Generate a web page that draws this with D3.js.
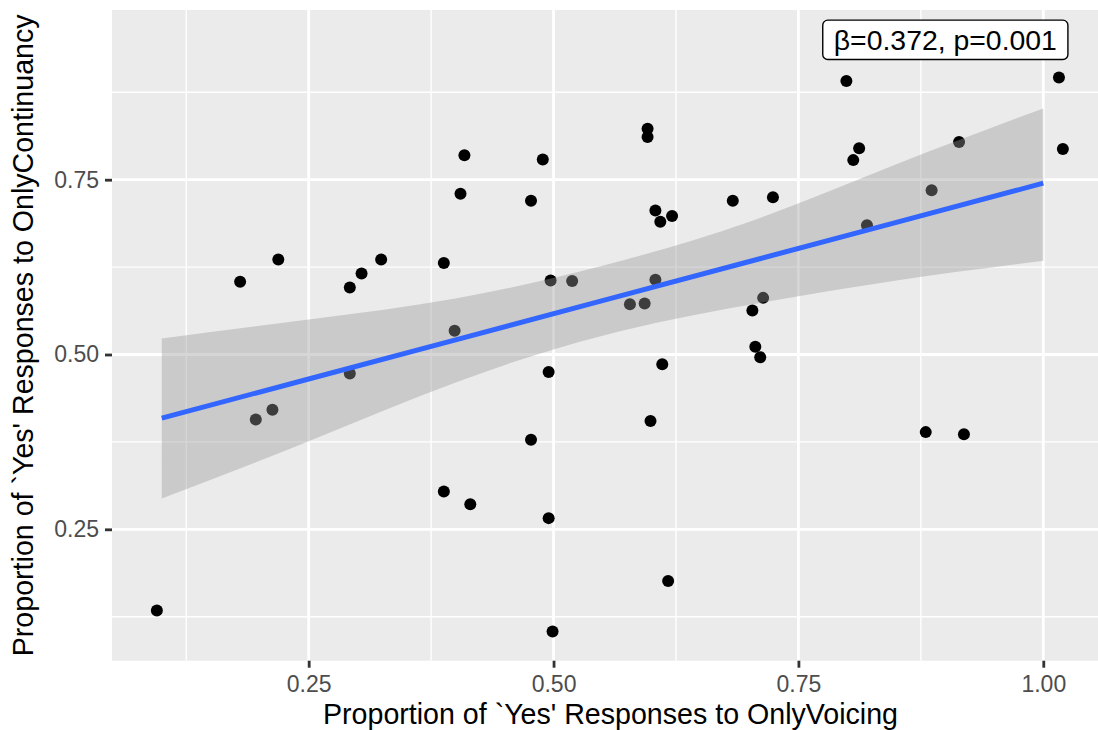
<!DOCTYPE html>
<html>
<head>
<meta charset="utf-8">
<script src="https://cdn.jsdelivr.net/npm/d3@7"></script>
<style>
  html, body { margin: 0; padding: 0; background: #ffffff; }
  svg { display: block; font-family: "Liberation Sans", Arial, Helvetica, sans-serif; }
</style>
</head>
<body>
<div id="chart"></div>
<script>
// proportion of 'yes' responses per item (points)
const voicing = [
  0.095, 0.180, 0.196, 0.213, 0.219, 0.292, 0.292, 0.304, 0.324, 0.388,
  0.388, 0.399, 0.405, 0.409, 0.415, 0.477, 0.477, 0.489, 0.495, 0.495,
  0.497, 0.499, 0.519, 0.578, 0.593, 0.596, 0.596, 0.599, 0.604, 0.604,
  0.609, 0.611, 0.617, 0.621, 0.683, 0.703, 0.706, 0.711, 0.714, 0.724,
  0.799, 0.806, 0.812, 0.820, 0.880, 0.886, 0.914, 0.919, 1.016, 1.020
];
const continuancy = [
  0.134, 0.604, 0.407, 0.421, 0.636, 0.596, 0.473, 0.616, 0.636, 0.631,
  0.304, 0.534, 0.730, 0.785, 0.286, 0.720, 0.378, 0.779, 0.475, 0.266,
  0.606, 0.104, 0.605, 0.572, 0.573, 0.823, 0.811, 0.405, 0.706, 0.607,
  0.690, 0.486, 0.176, 0.698, 0.720, 0.563, 0.511, 0.496, 0.581, 0.725,
  0.891, 0.778, 0.795, 0.685, 0.389, 0.735, 0.804, 0.386, 0.896, 0.794
];

// lm smooth and its 95% band
const fitX = [0.10, 0.25, 0.40, 0.55, 0.70, 0.85, 1.00];
const fitY = [0.409, 0.465, 0.521, 0.577, 0.633, 0.689, 0.745];
const fitLow = [0.294, 0.376, 0.460, 0.527, 0.571, 0.606, 0.634];
const fitHigh = [0.523, 0.550, 0.580, 0.627, 0.690, 0.772, 0.852];

const xMajor = [0.25, 0.50, 0.75, 1.00];
const xMinor = [0.125, 0.375, 0.625, 0.875];
const yMajor = [0.25, 0.50, 0.75];
const yMinor = [0.125, 0.375, 0.625, 0.875];

const statLabel = { x: 0.9, y: 0.95, text: "β=0.372, p=0.001" };
const xTitle = "Proportion of `Yes' Responses to OnlyVoicing";
const yTitle = "Proportion of `Yes' Responses to OnlyContinuancy";

const W = 1098, H = 730;
// panel runs a little past the right edge, as in the cropped original
const panel = { left: 112, top: 10, right: 1109, bottom: 660.7 };

const x = d3.scaleLinear().domain([0.0492, 1.0671]).range([panel.left, panel.right]);
const y = d3.scaleLinear().domain([0.0621, 0.9927]).range([panel.bottom, panel.top]);

const svg = d3.select("#chart").append("svg")
  .attr("width", W).attr("height", H)
  .attr("viewBox", `0 0 ${W} ${H}`);

svg.append("rect").attr("width", W).attr("height", H).attr("fill", "#ffffff");

svg.append("defs").append("clipPath").attr("id", "panel-clip")
  .append("rect")
  .attr("x", panel.left).attr("y", panel.top)
  .attr("width", panel.right - panel.left).attr("height", panel.bottom - panel.top);

svg.append("rect")
  .attr("x", panel.left).attr("y", panel.top)
  .attr("width", panel.right - panel.left).attr("height", panel.bottom - panel.top)
  .attr("fill", "#ebebeb");

const g = svg.append("g").attr("clip-path", "url(#panel-clip)");

// grid
const grid = g.append("g").attr("stroke", "#ffffff").attr("fill", "none");
grid.selectAll("line.xminor").data(xMinor).join("line")
  .attr("x1", d => x(d)).attr("x2", d => x(d))
  .attr("y1", panel.top).attr("y2", panel.bottom).attr("stroke-width", 1.4);
grid.selectAll("line.yminor").data(yMinor).join("line")
  .attr("y1", d => y(d)).attr("y2", d => y(d))
  .attr("x1", panel.left).attr("x2", panel.right).attr("stroke-width", 1.4);
grid.selectAll("line.xmajor").data(xMajor).join("line")
  .attr("x1", d => x(d)).attr("x2", d => x(d))
  .attr("y1", panel.top).attr("y2", panel.bottom).attr("stroke-width", 2.8);
grid.selectAll("line.ymajor").data(yMajor).join("line")
  .attr("y1", d => y(d)).attr("y2", d => y(d))
  .attr("x1", panel.left).attr("x2", panel.right).attr("stroke-width", 2.8);

// points
const pts = voicing.map((v, i) => [v, continuancy[i]]);
g.selectAll("circle.pt").data(pts).join("circle")
  .attr("class", "pt")
  .attr("cx", d => x(d[0])).attr("cy", d => y(d[1]))
  .attr("r", 6)
  .attr("fill", "#000000");

// smooth band + line
const fit = fitX.map((v, i) => ({ x: v, y: fitY[i], lo: fitLow[i], hi: fitHigh[i] }));
g.append("path").datum(fit)
  .attr("fill", "#999999").attr("fill-opacity", 0.4)
  .attr("d", d3.area().curve(d3.curveNatural)
    .x(d => x(d.x)).y0(d => y(d.lo)).y1(d => y(d.hi)));
g.append("path").datum(fit)
  .attr("fill", "none").attr("stroke", "#3366ff").attr("stroke-width", 5)
  .attr("d", d3.line().x(d => x(d.x)).y(d => y(d.y)));

// axes
const fmt = d3.format(".2f");
const xAxis = svg.append("g").attr("transform", `translate(0,${panel.bottom})`)
  .call(d3.axisBottom(x).tickValues(xMajor).tickSize(7).tickPadding(8).tickFormat(fmt));
const yAxis = svg.append("g").attr("transform", `translate(${panel.left},0)`)
  .call(d3.axisLeft(y).tickValues(yMajor).tickSize(7).tickPadding(6).tickFormat(fmt));
[xAxis, yAxis].forEach(a => {
  a.select(".domain").remove();
  a.selectAll(".tick line").attr("stroke", "#333333").attr("stroke-width", 2.8);
  a.selectAll(".tick text").attr("fill", "#4d4d4d")
    .style("font-size", "23px").style("font-family", "Liberation Sans, Arial, sans-serif");
});

// titles
svg.append("text")
  .attr("x", (panel.left + panel.right) / 2).attr("y", 724)
  .attr("text-anchor", "middle").attr("fill", "#000000")
  .style("font-size", "28.6px")
  .text(xTitle);
svg.append("text")
  .attr("transform", `translate(33,${(panel.top + panel.bottom) / 2}) rotate(-90)`)
  .attr("text-anchor", "middle").attr("fill", "#000000")
  .style("font-size", "28.6px")
  .text(yTitle);

// stat label
const lab = svg.append("g");
const lt = lab.append("text")
  .attr("x", x(statLabel.x)).attr("y", y(statLabel.y))
  .attr("text-anchor", "middle").attr("dy", "0.35em")
  .attr("fill", "#000000").style("font-size", "28.4px")
  .text(statLabel.text);
const bb = lt.node().getBBox();
lab.insert("rect", "text")
  .attr("x", x(statLabel.x) - bb.width / 2 - 11)
  .attr("y", y(statLabel.y) - 19.7)
  .attr("width", bb.width + 22).attr("height", 39.4)
  .attr("rx", 5).attr("ry", 5)
  .attr("fill", "#ffffff").attr("stroke", "#000000").attr("stroke-width", 1.4);
</script>
</body>
</html>
